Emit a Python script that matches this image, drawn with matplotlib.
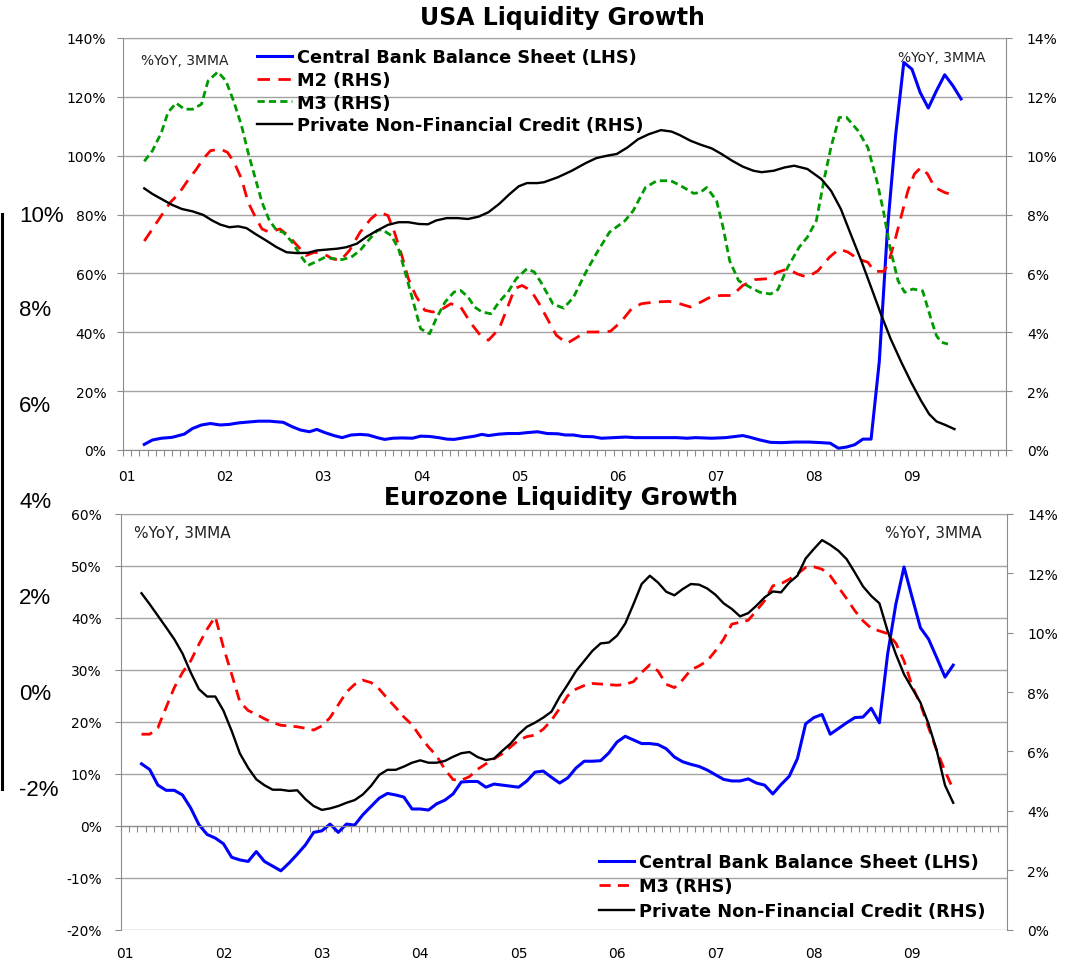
import numpy as np
import matplotlib
matplotlib.use("Agg")
import matplotlib.pyplot as plt
from matplotlib.ticker import FixedLocator, FuncFormatter, NullFormatter
from matplotlib.font_manager import FontProperties
from matplotlib.lines import Line2D
import matplotlib.transforms as mtrans

# ---------------- data ----------------
# x = month index (0 = Jan 2001)
year_labels = ["01", "02", "03", "04", "05", "06", "07", "08", "09"]
year_label_months = [0, 12, 24, 36, 48, 60, 72, 84, 96]

# USA (month, value)
us_cb = [(2.1, 1.9), (3.1, 3.4), (4.2, 4.0), (5.5, 4.3), (7.0, 5.4), (8.0, 7.3), (9.1, 8.5), (10.2, 9.0),
         (11.4, 8.5), (12.5, 8.7), (13.6, 9.2), (14.8, 9.5), (16.1, 9.8), (17.4, 9.8), (19.1, 9.4), (20.2, 7.9),
         (21.2, 6.8), (22.3, 6.2), (23.2, 7.0), (24.2, 5.9), (25.3, 4.9), (26.3, 4.2), (27.4, 5.1), (28.5, 5.3),
         (29.5, 5.1), (30.6, 4.2), (31.5, 3.6), (32.5, 4.0), (33.6, 4.1), (34.9, 4.0), (35.9, 4.7), (37.0, 4.6),
         (38.1, 4.2), (39.1, 3.7), (40.0, 3.6), (41.3, 4.2), (42.5, 4.7), (43.4, 5.3), (44.2, 4.9), (45.5, 5.4),
         (46.6, 5.6), (47.9, 5.6), (48.9, 5.9), (50.2, 6.2), (51.4, 5.6), (52.7, 5.5), (53.6, 5.1), (54.6, 5.1),
         (55.7, 4.6), (57.0, 4.5), (58.0, 4.0), (59.5, 4.2), (61.0, 4.4), (62.1, 4.2), (63.8, 4.2), (65.5, 4.2),
         (67.2, 4.2), (68.5, 4.0), (69.5, 4.2), (71.5, 4.0), (73.2, 4.2), (74.4, 4.6), (75.3, 4.9), (76.1, 4.4),
         (77.4, 3.4), (78.7, 2.6), (80.0, 2.5), (81.7, 2.7), (83.4, 2.7), (84.9, 2.5), (86.0, 2.3), (87.0, 0.6),
         (88.0, 1.0), (89.0, 1.8), (90.0, 3.7), (91.0, 3.7), (92.0, 30.0), (93.0, 75.0), (94.0, 107.0),
         (95.0, 131.7), (96.0, 129.4), (97.0, 121.5), (98.0, 116.2), (99.0, 122.1), (100.0, 127.5),
         (101.0, 123.8), (102.0, 119.3)]

us_m2 = [(2.1, 7.10), (3.1, 7.51), (4.2, 7.97), (5.3, 8.42), (6.3, 8.70), (7.4, 9.15), (8.5, 9.55), (9.3, 9.89),
         (10.2, 10.17), (11.4, 10.23), (12.3, 10.11), (13.1, 9.77), (14.0, 9.21), (14.8, 8.42), (15.7, 7.91),
         (16.5, 7.51), (17.4, 7.40), (18.7, 7.51), (19.7, 7.29), (20.8, 6.95), (21.9, 6.61), (22.9, 6.72),
         (24.0, 6.67), (25.1, 6.50), (26.1, 6.44), (27.2, 6.78), (28.5, 7.40), (29.8, 7.85), (30.8, 8.08),
         (31.9, 7.97), (32.7, 7.40), (33.6, 6.61), (34.4, 5.82), (35.3, 5.25), (36.4, 4.75), (37.4, 4.69),
         (38.3, 4.75), (39.6, 4.97), (40.8, 4.86), (42.1, 4.29), (43.2, 3.90), (44.2, 3.73), (45.5, 4.12),
         (46.4, 4.75), (47.4, 5.48), (48.3, 5.59), (49.4, 5.42), (50.4, 4.97), (51.4, 4.46), (52.5, 3.90),
         (53.8, 3.62), (55.1, 3.84), (56.1, 4.01), (57.4, 4.01), (59.1, 4.03), (60.4, 4.35), (61.7, 4.80),
         (62.9, 4.97), (64.6, 5.03), (66.3, 5.05), (67.6, 4.97), (68.9, 4.86), (70.2, 5.03), (71.5, 5.22),
         (72.7, 5.25), (74.0, 5.25), (75.3, 5.59), (76.8, 5.79), (78.3, 5.82), (79.5, 6.04), (80.8, 6.15),
         (82.0, 5.98), (83.2, 5.87), (84.5, 6.09), (85.9, 6.55), (87.1, 6.83), (88.2, 6.72), (89.4, 6.49),
         (90.6, 6.38), (91.4, 6.07), (92.6, 6.07), (93.2, 6.43), (93.9, 7.11), (94.7, 7.96), (95.5, 8.81),
         (96.3, 9.38), (97.1, 9.60), (97.9, 9.38), (98.8, 8.92), (100.0, 8.75), (101.0, 8.67)]

us_m3 = [(2.1, 9.81), (3.1, 10.17), (4.2, 10.79), (5.0, 11.47), (6.0, 11.79), (7.0, 11.58), (8.0, 11.58),
         (9.1, 11.75), (9.9, 12.54), (11.1, 12.85), (12.1, 12.54), (13.1, 11.80), (14.0, 11.02), (14.8, 10.11),
         (15.7, 9.21), (16.5, 8.42), (17.4, 7.80), (18.3, 7.46), (19.1, 7.40), (20.2, 7.06), (21.2, 6.61),
         (22.1, 6.27), (23.2, 6.41), (24.2, 6.55), (25.3, 6.50), (26.3, 6.47), (27.4, 6.55), (28.5, 6.78),
         (29.5, 7.12), (30.6, 7.46), (31.2, 7.49), (32.3, 7.29), (33.2, 6.84), (34.0, 6.05), (34.9, 5.14),
         (35.9, 4.12), (37.0, 3.95), (37.8, 4.46), (38.9, 5.03), (40.0, 5.37), (40.8, 5.42), (41.7, 5.20),
         (42.5, 4.86), (43.4, 4.69), (44.5, 4.63), (45.5, 5.03), (46.6, 5.37), (47.6, 5.82), (48.9, 6.16),
         (49.8, 6.05), (50.6, 5.71), (52.1, 4.96), (53.4, 4.82), (54.6, 5.19), (56.2, 6.09), (57.6, 6.77),
         (59.0, 7.40), (60.9, 7.79), (61.9, 8.13), (63.4, 8.92), (64.8, 9.15), (66.5, 9.15), (67.7, 8.98),
         (69.3, 8.72), (70.1, 8.75), (70.9, 8.92), (72.1, 8.47), (72.9, 7.56), (73.7, 6.43), (74.8, 5.75),
         (76.2, 5.53), (77.4, 5.36), (78.7, 5.30), (79.6, 5.45), (80.8, 6.21), (82.2, 6.89), (83.2, 7.23),
         (84.3, 7.79), (85.3, 9.26), (86.1, 10.30), (87.1, 11.30), (88.0, 11.30), (89.4, 10.85), (90.6, 10.28),
         (91.7, 9.15), (92.5, 8.13), (93.3, 6.89), (94.3, 5.75), (95.1, 5.36), (96.1, 5.47), (97.3, 5.41),
         (98.4, 4.39), (99.0, 3.88), (99.6, 3.66), (100.4, 3.60)]

us_credit = [(2.1, 8.89), (3.1, 8.70), (4.2, 8.53), (5.5, 8.33), (6.7, 8.19), (8.0, 8.11), (9.3, 7.99),
             (10.4, 7.80), (11.4, 7.66), (12.5, 7.57), (13.6, 7.60), (14.6, 7.54), (15.7, 7.34), (17.0, 7.12),
             (18.3, 6.89), (19.5, 6.72), (20.8, 6.69), (22.1, 6.70), (23.2, 6.78), (24.4, 6.81), (25.7, 6.84),
             (26.8, 6.89), (28.1, 7.01), (29.3, 7.25), (30.6, 7.46), (31.9, 7.65), (33.2, 7.74), (34.4, 7.74),
             (35.7, 7.68), (36.8, 7.67), (37.8, 7.80), (39.1, 7.88), (40.4, 7.88), (41.7, 7.85), (43.0, 7.93),
             (44.2, 8.08), (45.5, 8.36), (46.8, 8.70), (47.9, 8.96), (48.9, 9.07), (50.2, 9.07), (51.0, 9.10),
             (52.7, 9.27), (54.4, 9.49), (56.1, 9.75), (57.4, 9.92), (58.7, 10.00), (59.9, 10.06), (61.2, 10.28),
             (62.5, 10.56), (63.8, 10.73), (65.3, 10.87), (66.6, 10.82), (67.6, 10.70), (68.9, 10.51),
             (70.2, 10.37), (71.5, 10.25), (72.7, 10.06), (74.0, 9.83), (75.3, 9.63), (76.6, 9.49), (77.6, 9.44),
             (79.1, 9.49), (80.4, 9.60), (81.6, 9.66), (83.2, 9.55), (84.9, 9.21), (86.1, 8.81), (87.3, 8.19),
             (88.5, 7.34), (89.8, 6.43), (91.0, 5.53), (92.2, 4.62), (93.4, 3.77), (94.7, 2.98), (95.9, 2.30),
             (97.1, 1.68), (98.1, 1.22), (99.0, 0.97), (100.0, 0.86), (101.2, 0.71)]

# Eurozone: monthly, Mar 2001 (month 2) .. Jun 2009 (month 101)
ez_months = list(range(2, 102))
ez_cb = [11.9, 10.8, 7.8, 6.8, 6.8, 5.9, 3.4, 0.2, -1.7, -2.4,
         -3.5, -6.1, -6.6, -6.9, -5.0, -6.9, -7.8, -8.7, -7.2, -5.5,
         -3.7, -1.3, -1.0, 0.3, -1.3, 0.3, 0.1, 2.1, 3.7, 5.3,
         6.2, 5.9, 5.5, 3.2, 3.2, 3.0, 4.2, 4.9, 6.1, 8.4,
         8.5, 8.5, 7.4, 8.0, 7.8, 7.6, 7.4, 8.6, 10.3, 10.5,
         9.3, 8.2, 9.2, 11.1, 12.4, 12.4, 12.5, 14.0, 16.1, 17.2,
         16.5, 15.8, 15.8, 15.6, 14.8, 13.2, 12.3, 11.8, 11.4, 10.7,
         9.8, 8.9, 8.6, 8.6, 9.0, 8.2, 7.8, 6.1, 7.9, 9.5,
         12.9, 19.6, 20.8, 21.4, 17.6, 18.7, 19.8, 20.8, 20.9, 22.6,
         19.8, 33.0, 42.6, 49.8, 43.9, 38.1, 35.9, 32.3, 28.6, 30.9]
ez_m3 = [6.58, 6.58, 6.80, 7.48, 8.15, 8.66, 9.05, 9.61, 10.12, 10.54,
         9.50, 8.60, 7.67, 7.38, 7.25, 7.10, 6.97, 6.88, 6.86, 6.83,
         6.78, 6.72, 6.86, 7.14, 7.57, 8.00, 8.26, 8.40, 8.32, 8.10,
         7.78, 7.48, 7.16, 6.90, 6.50, 6.15, 5.85, 5.40, 5.05, 5.03,
         5.15, 5.40, 5.58, 5.75, 5.92, 6.15, 6.38, 6.50, 6.55, 6.75,
         7.05, 7.45, 7.88, 8.10, 8.22, 8.29, 8.27, 8.25, 8.23, 8.26,
         8.35, 8.66, 8.92, 8.71, 8.26, 8.15, 8.41, 8.75, 8.88, 9.05,
         9.39, 9.78, 10.29, 10.35, 10.42, 10.74, 11.08, 11.58, 11.65, 11.80,
         11.98, 12.20, 12.22, 12.14, 11.92, 11.53, 11.15, 10.74, 10.40, 10.15,
         10.06, 9.97, 9.65, 9.05, 8.20, 7.59, 6.80, 6.02, 5.34, 4.72]
ez_credit = [11.33, 10.96, 10.57, 10.18, 9.78, 9.30, 8.66, 8.10, 7.85, 7.85,
             7.37, 6.69, 5.93, 5.45, 5.06, 4.86, 4.71, 4.71, 4.67, 4.69,
             4.39, 4.16, 4.03, 4.08, 4.16, 4.27, 4.36, 4.55, 4.84, 5.21,
             5.38, 5.38, 5.49, 5.62, 5.70, 5.62, 5.62, 5.68, 5.82, 5.94,
             5.98, 5.81, 5.71, 5.76, 6.02, 6.26, 6.58, 6.83, 6.97, 7.14,
             7.34, 7.84, 8.26, 8.71, 9.05, 9.39, 9.64, 9.67, 9.90, 10.31,
             10.96, 11.64, 11.92, 11.69, 11.38, 11.26, 11.47, 11.64, 11.62, 11.49,
             11.28, 10.99, 10.80, 10.55, 10.66, 10.91, 11.19, 11.39, 11.36, 11.69,
             11.92, 12.50, 12.82, 13.12, 12.96, 12.76, 12.48, 12.03, 11.56, 11.24,
             10.99, 10.06, 9.28, 8.60, 8.12, 7.65, 6.92, 6.02, 4.86, 4.27]

ghost_labels = ["10%", "8%", "6%", "4%", "2%", "0%", "-2%"]

# ---------------- figure ----------------
W, H = 1073, 962
fig = plt.figure(figsize=(W / 100, H / 100), dpi=100)
fig.patch.set_facecolor("white")

GRID = "#A3A3A3"
AXC = "#8C8C8C"
BLUE, RED, GREEN, BLACK = "#0000FF", "#FF0000", "#009A00", "#000000"
tick_fp = FontProperties(family="DejaVu Sans", size=10)
note_fp_top = FontProperties(family="DejaVu Sans", size=10)
note_fp_bot = FontProperties(family="DejaVu Sans", size=11)
leg_fp = FontProperties(family="DejaVu Sans", weight="bold", size=12.8)
title_fp = FontProperties(family="DejaVu Sans", weight="bold", size=17)


def axes_px(l, t, r, b):
    return fig.add_axes([l / W, 1 - b / H, (r - l) / W, (b - t) / H])


pct = FuncFormatter(lambda v, p: f"{v:.0f}%")


def setup(ax, axr, lo, hi, step, rlo, rhi, rstep, lpad, zero_spine):
    ax.set_xlim(-0.5, 107.5)
    ax.set_ylim(lo, hi)
    axr.set_ylim(rlo, rhi)
    ax.yaxis.set_major_locator(FixedLocator(np.arange(lo, hi + 0.01, step)))
    axr.yaxis.set_major_locator(FixedLocator(np.arange(rlo, rhi + 0.01, rstep)))
    ax.yaxis.set_major_formatter(pct)
    axr.yaxis.set_major_formatter(pct)
    ax.grid(axis="y", color=GRID, lw=1.0)
    ax.set_axisbelow(True)
    ax.xaxis.set_major_locator(FixedLocator(np.arange(-0.5, 108, 1)))
    ax.xaxis.set_major_formatter(NullFormatter())
    ax.tick_params(axis="x", direction="out", length=4, width=0.8, color=AXC)
    ax.tick_params(axis="y", direction="out", length=4, width=0.8, color=AXC, pad=lpad)
    axr.tick_params(axis="y", direction="out", length=4, width=0.8, color=AXC, pad=11)
    for lab in ax.get_yticklabels() + axr.get_yticklabels():
        lab.set_fontproperties(tick_fp)
    for s in ["left", "bottom"]:
        ax.spines[s].set_color(AXC)
    ax.spines["top"].set_color(GRID)
    ax.spines["right"].set_visible(False)
    for s in ["left", "top", "bottom"]:
        axr.spines[s].set_visible(False)
    axr.spines["right"].set_color(AXC)
    if zero_spine:
        ax.spines["bottom"].set_position(("data", 0))
    trans = mtrans.blended_transform_factory(ax.transData, ax.transAxes)
    return trans


# ---- USA panel ----
ax1 = axes_px(123, 39, 1006, 451)
ax1r = ax1.twinx()
tr1 = setup(ax1, ax1r, 0, 140, 20, 0, 14, 2, 8, False)
for m, lab in zip(year_label_months, year_labels):
    ax1.text(m, -(477 - 451) / 412, lab, transform=tr1, ha="center", va="center",
             fontproperties=tick_fp)

x, y = zip(*us_cb)
l_cb, = ax1.plot(x, y, color=BLUE, lw=2.2, solid_joinstyle="round")
x, y = zip(*us_m2)
l_m2, = ax1r.plot(x, y, color=RED, lw=2.0, dashes=(4.5, 3.0))
x, y = zip(*us_m3)
l_m3, = ax1r.plot(x, y, color=GREEN, lw=2.0, dashes=(2.6, 1.5))
x, y = zip(*us_credit)
l_cr, = ax1r.plot(x, y, color=BLACK, lw=1.7)

ax1r.legend([l_cb, l_m2, l_m3, l_cr],
            ["Central Bank Balance Sheet (LHS)", "M2 (RHS)", "M3 (RHS)", "Private Non-Financial Credit (RHS)"],
            loc="upper left", bbox_to_anchor=((257 - 123) / 883, 0.975), frameon=False, prop=leg_fp,
            handlelength=1.97, handletextpad=0.28, labelspacing=0.26, borderpad=0, borderaxespad=0)

fig.text(562 / W, 1 - 18 / H, "USA Liquidity Growth", ha="center", va="center", fontproperties=title_fp)
fig.text(141 / W, 1 - 61 / H, "%YoY, 3MMA", ha="left", va="center", fontproperties=note_fp_top, color="#222222")
fig.text(986 / W, 1 - 58 / H, "%YoY, 3MMA", ha="right", va="center", fontproperties=note_fp_top, color="#222222")

# ---- Eurozone panel ----
ax2 = axes_px(121, 515, 1006.5, 930.5)
ax2r = ax2.twinx()
tr2 = setup(ax2, ax2r, -20, 60, 10, 0, 14, 2, 10, True)
for m, lab in zip(year_label_months, year_labels):
    ax2.text(m, -(954 - 930.5) / 415.5, lab, transform=tr2, ha="center", va="center",
             fontproperties=tick_fp)

e_cb, = ax2.plot(ez_months, ez_cb, color=BLUE, lw=2.2, solid_joinstyle="round")
e_m3, = ax2r.plot(ez_months, ez_m3, color=RED, lw=2.0, dashes=(4.0, 2.6))
e_cr, = ax2r.plot(ez_months, ez_credit, color=BLACK, lw=1.7)

ax2r.legend([e_cb, e_m3, e_cr],
            ["Central Bank Balance Sheet (LHS)", "M3 (RHS)", "Private Non-Financial Credit (RHS)"],
            loc="upper left", bbox_to_anchor=((599 - 121) / 885.5, 0.184), frameon=False, prop=leg_fp,
            handlelength=1.97, handletextpad=0.28, labelspacing=0.36, borderpad=0, borderaxespad=0)

fig.text(561 / W, 1 - 498 / H, "Eurozone Liquidity Growth", ha="center", va="center", fontproperties=title_fp)
fig.text(134 / W, 1 - 534 / H, "%YoY, 3MMA", ha="left", va="center", fontproperties=note_fp_bot, color="#222222")
fig.text(982 / W, 1 - 533 / H, "%YoY, 3MMA", ha="right", va="center", fontproperties=note_fp_bot, color="#222222")

# ---- stray axis fragment at the far left ----
ghost_y = [216, 311, 407, 503, 599, 695, 791]
for lab, yy in zip(ghost_labels, ghost_y):
    fig.text(19 / W, 1 - yy / H, lab, ha="left", va="center",
             fontproperties=FontProperties(family="Liberation Sans", size=16))
fig.add_artist(Line2D([1.5 / W, 1.5 / W], [1 - 215 / H, 1 - 790 / H], transform=fig.transFigure,
                      color="black", lw=2.2))

fig.savefig("out.png", dpi=100, facecolor="white")
